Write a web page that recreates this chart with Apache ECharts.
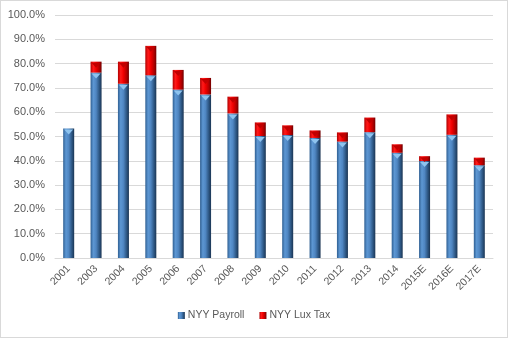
<!DOCTYPE html>
<html>
<head>
<meta charset="utf-8">
<style>
  html, body { margin: 0; padding: 0; background: #fff; }
  #chart { width: 508px; height: 338px; box-sizing: border-box; border: 1px solid #d9d9d9; }
</style>
<script src="https://cdn.jsdelivr.net/npm/echarts@6/dist/echarts.min.js"></script>
</head>
<body>
<div id="chart"></div>
<script>
// Yankees payroll and luxury tax as a share of revenue
const years = ['2001', '2003', '2004', '2005', '2006', '2007', '2008', '2009', '2010',
               '2011', '2012', '2013', '2014', '2015E', '2016E', '2017E'];
const payroll = [53.3, 76.3, 71.7, 75.2, 69.3, 67.3, 59.5, 50.2, 50.6,
                 49.4, 47.9, 51.8, 43.3, 39.9, 50.7, 38.2];
const luxTax = [0, 4.5, 9.1, 12.1, 8.1, 6.8, 6.9, 5.6, 4.0,
                3.1, 3.8, 6.0, 3.5, 2.0, 8.4, 3.1];
const yTicks = [0, 10, 20, 30, 40, 50, 60, 70, 80, 90, 100];

const BAR_W = 11;

const blueFill = new echarts.graphic.LinearGradient(0, 0, 1, 0, [
  { offset: 0, color: '#2f5f92' },
  { offset: 0.25, color: '#5d97d3' },
  { offset: 0.5, color: '#4f86c2' },
  { offset: 0.8, color: '#2c5581' },
  { offset: 1, color: '#1b3553' }
]);
const redFill = new echarts.graphic.LinearGradient(0, 0, 1, 0, [
  { offset: 0, color: '#b00000' },
  { offset: 0.25, color: '#ff1a1a' },
  { offset: 0.5, color: '#f00000' },
  { offset: 0.8, color: '#b00000' },
  { offset: 1, color: '#700000' }
]);

// small cone highlight at the top of each stacked segment
function capRenderer(values, base, color) {
  return function (params, api) {
    const i = api.value(0);
    const top = values[i] + (base ? base[i] : 0);
    if (!values[i]) return null;
    const p = api.coord([i, top]);
    const h = Math.min(5, api.size([0, values[i]])[1]);
    const half = BAR_W / 2 - 1;
    return {
      type: 'polygon',
      shape: { points: [[p[0] - half, p[1] + 1], [p[0] + half, p[1] + 1], [p[0], p[1] + 1 + h]] },
      style: { fill: color },
      silent: true
    };
  };
}

const chart = echarts.init(document.getElementById('chart'), null, { renderer: 'canvas' });
chart.setOption({
  animation: false,
  textStyle: { fontFamily: 'Liberation Sans', color: '#595959' },
  grid: { left: 54, right: 14, top: 14, bottom: 79, containLabel: false },
  legend: {
    bottom: 11,
    left: 'center',
    itemWidth: 7,
    itemHeight: 7,
    itemGap: 15,
    icon: 'rect',
    textStyle: { fontSize: 10.5, color: '#595959', padding: [0, 0, 0, -2] },
    data: ['NYY Payroll', 'NYY Lux Tax']
  },
  xAxis: {
    type: 'category',
    data: years,
    axisLine: { lineStyle: { color: '#d9d9d9' } },
    axisTick: { show: false },
    axisLabel: { rotate: 45, fontSize: 10.5, color: '#595959', margin: 9, interval: 0 }
  },
  yAxis: {
    type: 'value',
    min: 0,
    max: 100,
    interval: 10,
    axisLine: { show: false },
    axisTick: { show: false },
    splitLine: { lineStyle: { color: '#d9d9d9' } },
    axisLabel: {
      fontSize: 11, color: '#595959', margin: 10,
      formatter: v => yTicks.includes(v) ? v.toFixed(1) + '%' : ''
    }
  },
  series: [
    {
      name: 'NYY Payroll',
      type: 'bar',
      stack: 'total',
      barWidth: BAR_W,
      data: payroll,
      itemStyle: { color: blueFill }
    },
    {
      name: 'NYY Lux Tax',
      type: 'bar',
      stack: 'total',
      barWidth: BAR_W,
      data: luxTax,
      itemStyle: { color: redFill }
    },
    {
      type: 'custom',
      renderItem: capRenderer(payroll, null, '#8ec3ee'),
      data: years.map((y, i) => [i]),
      z: 5,
      tooltip: { show: false }
    },
    {
      type: 'custom',
      renderItem: capRenderer(luxTax, payroll, '#c00000'),
      data: years.map((y, i) => [i]),
      z: 5,
      tooltip: { show: false }
    }
  ]
});
</script>
</body>
</html>
